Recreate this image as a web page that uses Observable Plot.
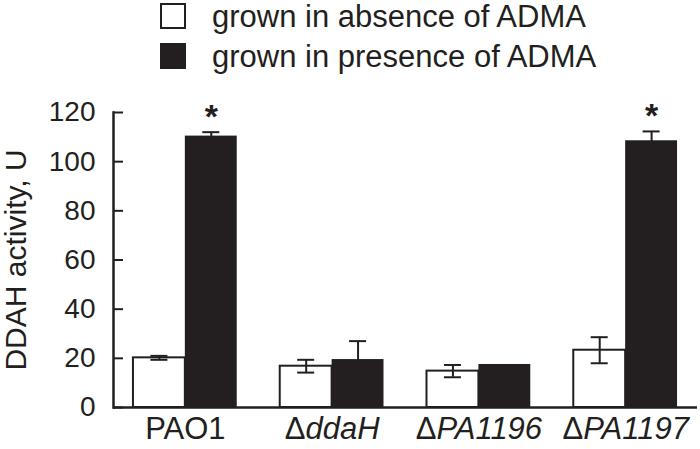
<!DOCTYPE html>
<html>
<head>
<meta charset="utf-8">
<script src="https://cdn.jsdelivr.net/npm/d3@7"></script>
<script src="https://cdn.jsdelivr.net/npm/@observablehq/plot@0.6"></script>
<style>
  html, body { margin: 0; padding: 0; background: #fff; }
  #wrap { position: relative; width: 700px; height: 449px; font-family: "Liberation Sans", Arial, sans-serif; color: #231f20; }
  #legend { position: relative; width: 700px; height: 80px; }
  .sw { position: absolute; left: 160px; width: 26px; height: 26px; box-sizing: border-box; border: 2px solid #231f20; }
  .lt { position: absolute; left: 212px; font-size: 31px; line-height: 34px; white-space: nowrap; }
  svg { display: block; }
</style>
</head>
<body>
<div id="wrap">
  <div id="legend"></div>
  <div id="chart"></div>
</div>
<script>
// ---- data ----
const strains = ["PAO1", "ΔddaH", "ΔPA1196", "ΔPA1197"];
const seriesNames = ["grown in absence of ADMA", "grown in presence of ADMA"];
const absence = [20.2, 16.8, 14.8, 23.3];
const absenceErr = [0.8, 2.6, 2.5, 5.3];
const presence = [110.4, 19.5, 17.5, 108.5];
const presenceErr = [1.6, 7.5, 0, 3.8];
const significant = [true, false, false, true];
const yTicks = [0, 20, 40, 60, 80, 100, 120];
const yLabel = "DDAH activity, U";

// ---- legend ----
const ink = "#231f20";
const legend = document.getElementById("legend");
seriesNames.forEach((name, i) => {
  const sw = document.createElement("div");
  sw.className = "sw";
  sw.style.top = (3 + i * 40) + "px";
  sw.style.background = i === 0 ? "#fff" : ink;
  legend.appendChild(sw);
  const t = document.createElement("div");
  t.className = "lt";
  t.style.top = (0 + i * 40) + "px";
  t.textContent = name;
  legend.appendChild(t);
});

// ---- layout ----
const width = 700, height = 369;
const marginLeft = 113, marginRight = 3, marginTop = 32, marginBottom = 42;
const paddingInner = 0.293, paddingOuter = 0.136;
const step = (width - marginLeft - marginRight) / (strains.length - paddingInner + 2 * paddingOuter);
const bw = step * (1 - paddingInner);
const capW = 17;

const rowsA = strains.map((s, i) => ({strain: s, v: absence[i], e: absenceErr[i]}));
const rowsP = strains.map((s, i) => ({strain: s, v: presence[i], e: presenceErr[i], sig: significant[i]}));
const errA = rowsA.filter(d => d.e > 0);
const errP = rowsP.filter(d => d.e > 0);

function errMarks(rows, dx) {
  return [
    Plot.ruleX(rows, {x: "strain", y1: d => d.v - d.e, y2: d => d.v + d.e, dx, stroke: ink, strokeWidth: 2}),
    Plot.tickY(rows, {x: "strain", y: d => d.v + d.e, dx, inset: (bw - capW) / 2, stroke: ink, strokeWidth: 2}),
    Plot.tickY(rows, {x: "strain", y: d => d.v - d.e, dx, inset: (bw - capW) / 2, stroke: ink, strokeWidth: 2})
  ];
}

const chart = Plot.plot({
  width, height, marginLeft, marginRight, marginTop, marginBottom,
  style: {fontFamily: "'Liberation Sans', Arial, sans-serif", fontSize: "28px", color: ink, background: "#fff"},
  x: {domain: strains, paddingInner, paddingOuter, round: false, align: 0.5},
  y: {domain: [0, 120]},
  marks: [
    Plot.barY(rowsA, {x: "strain", y: "v", insetLeft: 0, insetRight: bw / 2, fill: "#fff", stroke: ink, strokeWidth: 2}),
    Plot.barY(rowsP, {x: "strain", y: "v", insetLeft: bw / 2, insetRight: 0, fill: ink}),
    ...errMarks(errA, -bw / 4),
    ...errMarks(errP, bw / 4),
    Plot.text(rowsP.filter(d => d.sig), {x: "strain", y: d => d.v + d.e, dx: bw / 4, dy: -4, text: () => "*", lineAnchor: "bottom", fontSize: 34, fontWeight: "bold", fill: ink}),
    Plot.ruleY(yTicks, {insetRight: width - marginLeft - marginRight - 10, stroke: ink, strokeWidth: 2}),
    Plot.ruleY([0], {stroke: ink, strokeWidth: 2.5}),
    Plot.frame({anchor: "left", stroke: ink, strokeWidth: 2.5}),
    Plot.axisY({ticks: yTicks, tickSize: 0, tickPadding: 18, fontSize: 28, label: null}),
    Plot.axisY({ticks: [], fontSize: 30, label: yLabel, labelAnchor: "center", labelOffset: 109, labelArrow: "none"}),
    Plot.axisX({tickSize: 0, tickPadding: 9, fontSize: 31, label: null})
  ]
});
document.getElementById("chart").appendChild(chart);

// italic gene names in x tick labels
d3.select(chart).selectAll('g[aria-label="x-axis tick label"] text').each(function () {
  const s = this.textContent;
  if (s.startsWith("Δ")) {
    const el = d3.select(this);
    el.text(null);
    el.append("tspan").text("Δ");
    el.append("tspan").attr("font-style", "italic").text(s.slice(1));
  }
});
</script>
</body>
</html>
